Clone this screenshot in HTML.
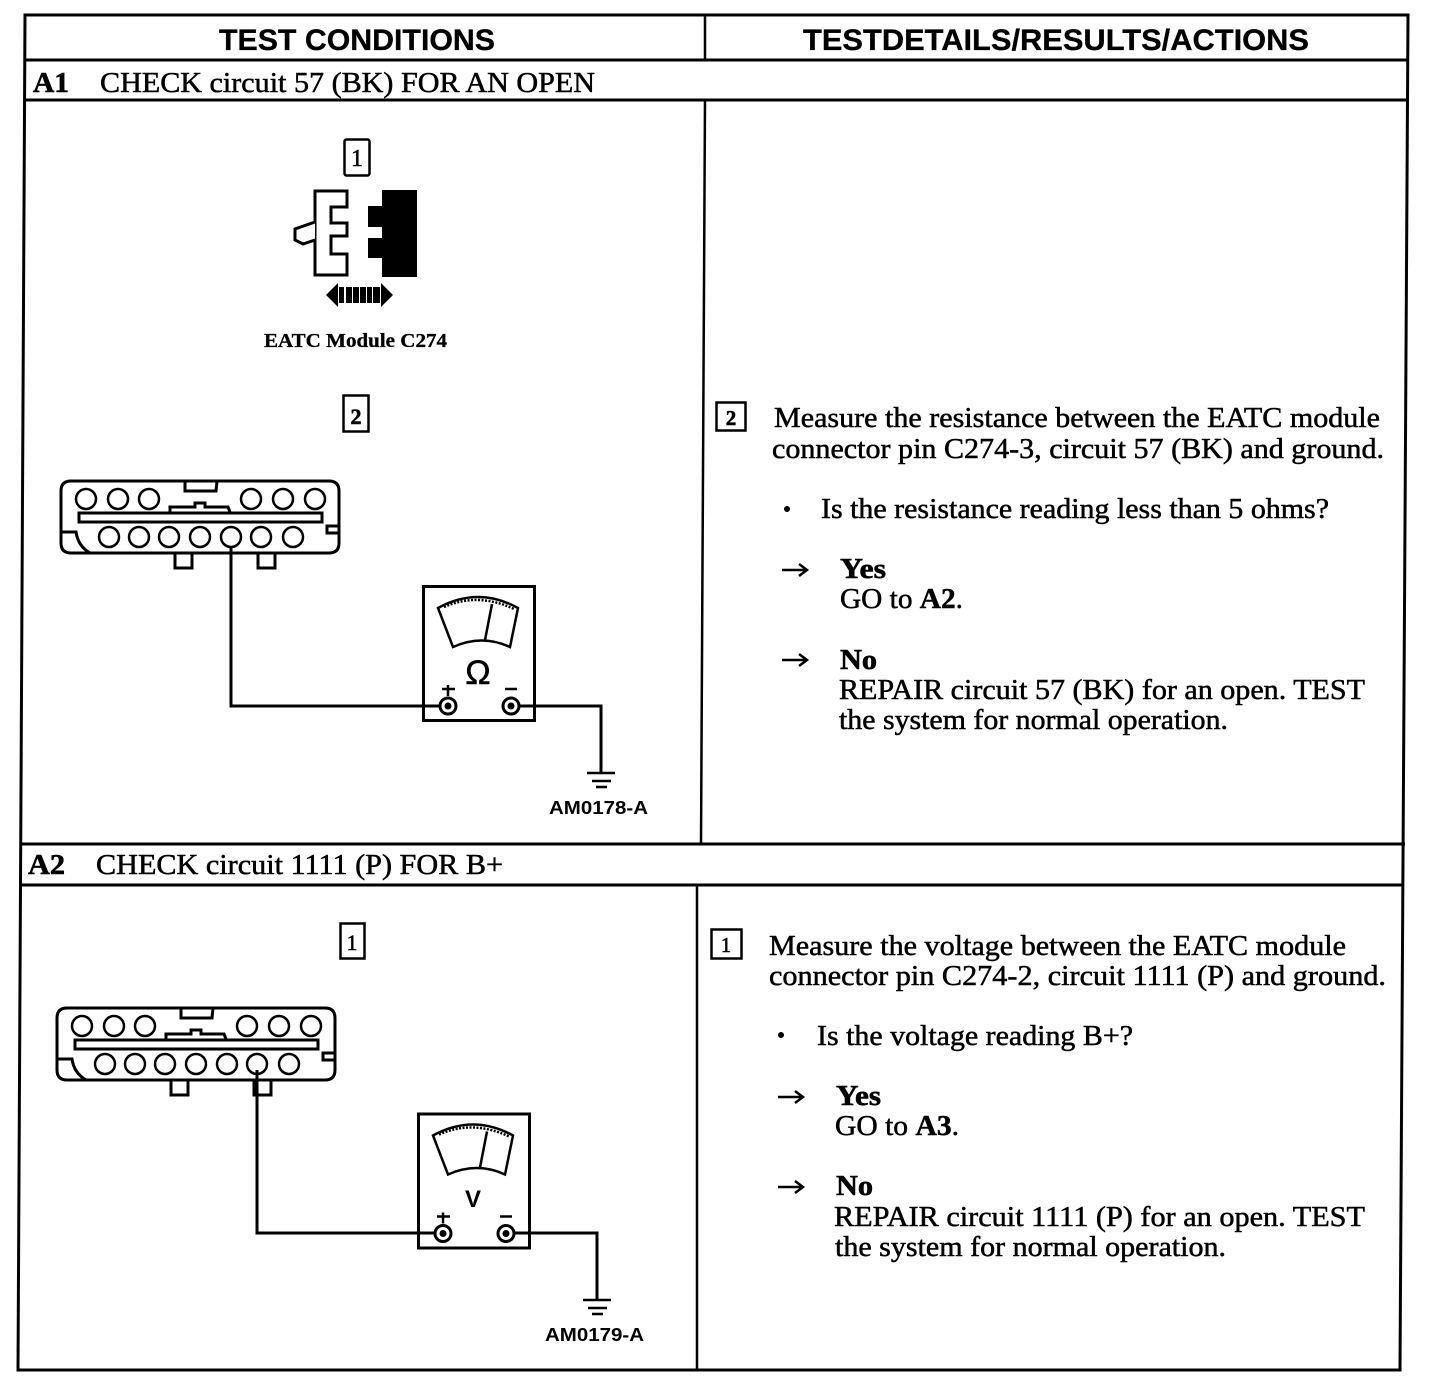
<!DOCTYPE html>
<html><head><meta charset="utf-8"><style>
html,body{margin:0;padding:0;background:#fff;width:1440px;height:1390px;overflow:hidden}
svg{display:block}
.s{font-family:"Liberation Serif",serif;font-size:28px;fill:#000;stroke:#000;stroke-width:.5}
.b{font-weight:bold;stroke-width:.6}
.h{font-family:"Liberation Sans",sans-serif;font-weight:bold;font-size:30px;fill:#000;stroke:#000;stroke-width:.3}
.am{font-family:"Liberation Sans",sans-serif;font-weight:bold;font-size:18px;fill:#000}
.l{fill:none;stroke:#000;stroke-width:3}
.t{fill:none;stroke:#000;stroke-width:2.5}
</style></head><body>
<svg width="1440" height="1390" viewBox="0 0 1440 1390" xmlns="http://www.w3.org/2000/svg">
<defs>
<g id="conn" class="l">
<path d="M71 481H329Q339 481 339 491V543Q339 553 329 553H71Q61 553 61 543V491Q61 481 71 481Z"/>
<g stroke-width="2.5"><circle cx="86" cy="499" r="10"/><circle cx="118" cy="499" r="10"/><circle cx="149" cy="499" r="10"/><circle cx="251" cy="499" r="10"/><circle cx="283" cy="499" r="10"/><circle cx="315" cy="499" r="10"/>
<circle cx="109" cy="537" r="10"/><circle cx="139" cy="537" r="10"/><circle cx="169" cy="537" r="10"/><circle cx="200" cy="537" r="10"/><circle cx="231" cy="537" r="10"/><circle cx="261" cy="537" r="10"/><circle cx="293" cy="537" r="10"/></g>
<rect x="79" y="513" width="243" height="9"/>
<path d="M185 481V491H216L217 481"/>
<path d="M170 512V507H195V503H205V507H228L230 512"/>
<path d="M175 553V568H192V553M258 553V568H275V553"/>
<path d="M61 532H76Q78 546 90 553"/>
<path d="M339 526H327V533H339"/>
</g>
<g id="meter" class="l">
<rect x="423.500" y="586.500" width="111" height="134"/>
<path d="M438 608Q478 586 518 608L510 647Q482 634 453 647Z" stroke-width="2.500"/>
<path d="M444 607Q478 592 514 609" stroke-width="2.500" stroke-dasharray="2 1.500"/>
<path d="M492 604L485 640" stroke-width="2.500"/>
<circle cx="448" cy="706" r="8"/><circle cx="511" cy="706" r="8"/>
<circle cx="448" cy="706" r="2" fill="#000"/><circle cx="511" cy="706" r="2" fill="#000"/>
<path d="M442 689H455M448 685V696M505 689H517" stroke-width="2.500"/>
</g>
<g id="gnd" stroke="#000" stroke-width="2.500" fill="none">
<path d="M587 773H615M592 781H611M596 787H607"/>
</g>
</defs>

<!-- table -->
<g class="l">
<path d="M25 15L18 1370H1400L1408 15Z"/>
<path d="M25 60H1408M25 100H1408M22 844H1405M21 885H1404"/>
<path d="M705 15V60M705 100L701 843M697 885V1370" stroke-width="2.500"/>
</g>

<text class="h" x="219" y="50" textLength="276" lengthAdjust="spacingAndGlyphs">TEST CONDITIONS</text>
<text class="h" x="803" y="50" textLength="506" lengthAdjust="spacingAndGlyphs">TESTDETAILS/RESULTS/ACTIONS</text>

<text class="s b" x="33" y="92" textLength="36" lengthAdjust="spacingAndGlyphs">A1</text>
<text class="s" x="100" y="92" textLength="495" lengthAdjust="spacingAndGlyphs">CHECK circuit 57 (BK) FOR AN OPEN</text>
<text class="s b" x="28" y="874" textLength="37" lengthAdjust="spacingAndGlyphs">A2</text>
<text class="s" x="96" y="874" textLength="407" lengthAdjust="spacingAndGlyphs">CHECK circuit 1111 (P) FOR B+</text>

<!-- A1 left -->
<rect x="344.500" y="139.500" width="25" height="36" rx="2" class="t"/>
<text class="s" x="357" y="166" text-anchor="middle" style="font-size:24px">1</text>
<path fill="#fff" stroke="#000" stroke-width="3" d="M315 191H347V207H331V223H347V236H331V254H347V275H315Z"/>
<path fill="#fff" stroke="#000" stroke-width="3" d="M315 222L295 229V240L303 244L315 240"/>
<path fill="#000" d="M382 190H417V277H382V258H368V238H382V227H368V206H382Z"/>
<path fill="#000" d="M326 295L338 283V307ZM381 283L393 295L381 307ZM339 287h5v16h-5zM346 287h6v16h-6zM353 287h6v16h-6zM360 287h6v16h-6zM367 287h5v16h-5zM373 287h7v16h-7z"/>
<text class="s b" x="264" y="347" textLength="183" lengthAdjust="spacingAndGlyphs" style="font-size:20px;stroke-width:.3">EATC Module C274</text>
<rect x="343.500" y="395.500" width="25" height="36" class="t"/>
<text class="s b" x="356" y="424" text-anchor="middle" style="font-size:22px">2</text>

<use href="#conn"/>
<path class="l" d="M231 547V706H441M518 706H601V772"/>
<use href="#meter"/>
<use href="#gnd"/>
<text class="s" x="478" y="684" text-anchor="middle" style="font-size:34px;font-family:'Liberation Sans',sans-serif">Ω</text>
<text class="am" x="549" y="814" textLength="99" lengthAdjust="spacingAndGlyphs">AM0178-A</text>

<!-- A2 left -->
<rect x="340.500" y="923.500" width="24" height="35" class="t"/>
<text class="s" x="352" y="950" text-anchor="middle" style="font-size:22px">1</text>
<use href="#conn" transform="translate(-4,527)"/>
<path class="l" d="M257 1070V1233H436M514 1233H597V1300"/>
<use href="#meter" transform="translate(-5,527.500)"/>
<use href="#gnd" transform="translate(-4,527)"/>
<text x="473" y="1207" text-anchor="middle" style="font-size:24px;font-weight:bold;font-family:'Liberation Sans',sans-serif">V</text>
<text class="am" x="545" y="1341" textLength="99" lengthAdjust="spacingAndGlyphs">AM0179-A</text>

<!-- A1 right -->
<rect x="716.500" y="402.500" width="29" height="28" class="t"/>
<text class="s b" x="731" y="425" text-anchor="middle" style="font-size:21px">2</text>
<text class="s" x="774" y="427" textLength="606" lengthAdjust="spacingAndGlyphs">Measure the resistance between the EATC module</text>
<text class="s" x="772" y="458" textLength="612" lengthAdjust="spacingAndGlyphs">connector pin C274-3, circuit 57 (BK) and ground.</text>
<circle cx="787" cy="509" r="3"/>
<text class="s" x="821" y="518" textLength="508" lengthAdjust="spacingAndGlyphs">Is the resistance reading less than 5 ohms?</text>
<path class="t" stroke-width="2" d="M782 570H806M799 564L807 570L799 576"/>
<text class="s b" x="840" y="578" textLength="46" lengthAdjust="spacingAndGlyphs">Yes</text>
<text class="s" x="840" y="608" textLength="123" lengthAdjust="spacingAndGlyphs">GO to <tspan font-weight="bold">A2</tspan>.</text>
<path class="t" stroke-width="2" d="M782 660H806M799 654L807 660L799 666"/>
<text class="s b" x="840" y="669" textLength="37" lengthAdjust="spacingAndGlyphs">No</text>
<text class="s" x="839" y="699" textLength="526" lengthAdjust="spacingAndGlyphs">REPAIR circuit 57 (BK) for an open. TEST</text>
<text class="s" x="839" y="729" textLength="389" lengthAdjust="spacingAndGlyphs">the system for normal operation.</text>

<!-- A2 right -->
<rect x="711.500" y="929.500" width="30" height="29" class="t"/>
<text class="s" x="726" y="952" text-anchor="middle" style="font-size:21px">1</text>
<text class="s" x="769" y="955" textLength="577" lengthAdjust="spacingAndGlyphs">Measure the voltage between the EATC module</text>
<text class="s" x="769" y="985" textLength="617" lengthAdjust="spacingAndGlyphs">connector pin C274-2, circuit 1111 (P) and ground.</text>
<circle cx="781" cy="1035" r="3"/>
<text class="s" x="817" y="1045" textLength="316" lengthAdjust="spacingAndGlyphs">Is the voltage reading B+?</text>
<path class="t" stroke-width="2" d="M778 1097H802M795 1091L803 1097L795 1103"/>
<text class="s b" x="836" y="1105" textLength="45" lengthAdjust="spacingAndGlyphs">Yes</text>
<text class="s" x="835" y="1135" textLength="124" lengthAdjust="spacingAndGlyphs">GO to <tspan font-weight="bold">A3</tspan>.</text>
<path class="t" stroke-width="2" d="M778 1187H802M795 1181L803 1187L795 1193"/>
<text class="s b" x="836" y="1195" textLength="37" lengthAdjust="spacingAndGlyphs">No</text>
<text class="s" x="834" y="1226" textLength="531" lengthAdjust="spacingAndGlyphs">REPAIR circuit 1111 (P) for an open. TEST</text>
<text class="s" x="835" y="1256" textLength="391" lengthAdjust="spacingAndGlyphs">the system for normal operation.</text>
</svg>
</body></html>
